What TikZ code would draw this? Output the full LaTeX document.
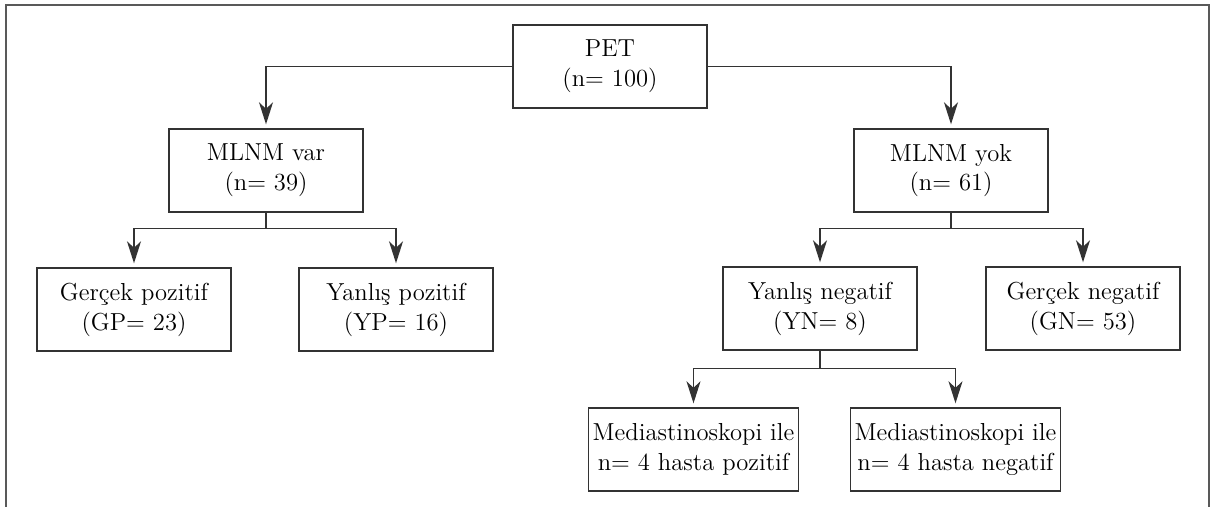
\documentclass[tikz,border=0pt]{standalone}
\usepackage{fontspec}
\usepackage{tikz}
\usetikzlibrary{positioning,arrows.meta}

\begin{document}
\begin{tikzpicture}[x=0.02cm, y=-0.02cm,
        kutu/.style={draw=black!80, line width=0.8pt, minimum width=3.88cm, minimum height=1.66cm,
            inner xsep=0.08cm, align=center, font=\fontsize{14}{17}\selectfont},
        ok/.style={-{Stealth[length=0.44cm,width=0.28cm,inset=0.13cm]}, line width=0.8pt,
            draw=black!80, shorten >=0.08cm}]
            \useasboundingbox (0,0) rectangle (1215,507);
            % frame
            \draw[line width=1.1pt, color=black!65] (6,507) -- (6,5) -- (1209,5) -- (1209,507);
            % boxes
            \node[kutu] (pet) at (610,66.5) {PET\\(n= 100)};
            \node[kutu] (var) at (266,170.5) {MLNM var\\(n= 39)};
            \node[kutu] (yok) at (951,170.5) {MLNM yok\\(n= 61)};
            \node[kutu] (gp) at (134,309.5) {Gerçek pozitif\\(GP= 23)};
            \node[kutu] (yp) at (396,309.5) {Yanlış pozitif\\(YP= 16)};
            \node[kutu] (yn) at (820,308.5) {Yanlış negatif\\(YN= 8)};
            \node[kutu] (gn) at (1083,308.5) {Gerçek negatif\\(GN= 53)};
            \node[kutu] (mp) at (693.5,449.5) {Mediastinoskopi ile\\n= 4 hasta pozitif};
            \node[kutu] (mn) at (955.5,449.5) {Mediastinoskopi ile\\n= 4 hasta negatif};
            % connectors
            \draw[ok] (pet.west) -| (var.north);
            \draw[ok] (pet.east) -| (yok.north);
            \draw[line width=0.8pt, draw=black!80] (var.south) -- ++(0,16) coordinate (v1);
            \draw[ok] (v1) -| (gp.north);
            \draw[ok] (v1) -| (yp.north);
            \draw[line width=0.8pt, draw=black!80] (yok.south) -- ++(0,16) coordinate (y1);
            \draw[ok] (y1) -| (yn.north);
            \draw[ok] (y1) -| (gn.north);
            \draw[line width=0.8pt, draw=black!80] (yn.south) -- ++(0,18) coordinate (n1);
            \draw[ok] (n1) -| (mp.north);
            \draw[ok] (n1) -| (mn.north);
        \end{tikzpicture}
\end{document}
